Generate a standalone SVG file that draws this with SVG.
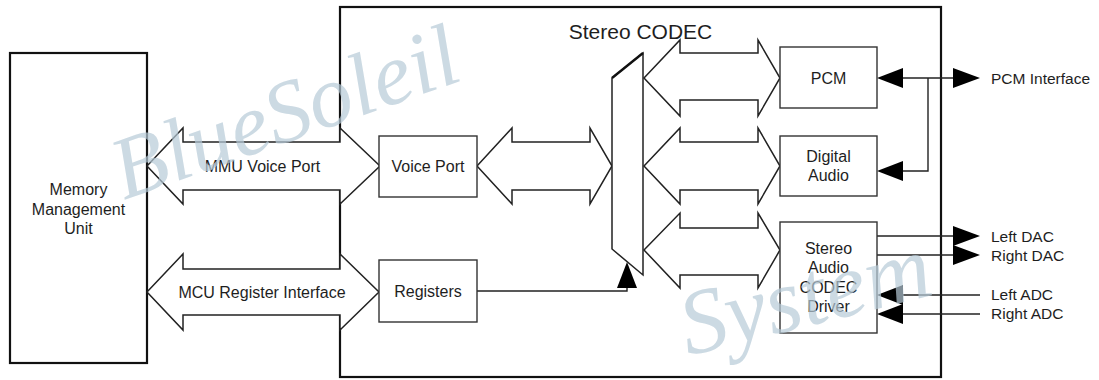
<svg xmlns="http://www.w3.org/2000/svg" width="1099" height="380" viewBox="0 0 1099 380">
<defs>
<style>
.wm{font-family:"Liberation Serif","DejaVu Serif",serif;font-style:italic;fill:#b7cbd8;opacity:0.7}
.box{fill:#fff;stroke:#111;stroke-width:2.2}
.blk{fill:#fff;stroke:#333;stroke-width:1.4}
.arr{fill:#fff;stroke:#222;stroke-width:1.5;stroke-linejoin:miter}
.ln{fill:none;stroke:#222;stroke-width:1.4}
.hd{fill:#000;stroke:none}
.t{font-family:"Liberation Sans",Arial,sans-serif;font-size:16px;fill:#1e1e1e;text-anchor:middle}
.tl{font-family:"Liberation Sans",Arial,sans-serif;font-size:15.5px;fill:#1e1e1e}
.title{font-family:"Liberation Sans",Arial,sans-serif;font-size:21px;fill:#1e1e1e;text-anchor:middle}
</style>
</defs>
<rect width="1099" height="380" fill="#fff"/>

<g id="mmu">
<rect class="box" x="10" y="53" width="137" height="310"/>
<text class="t" x="78.5" y="195">Memory</text>
<text class="t" x="78.5" y="214.5">Management</text>
<text class="t" x="78.5" y="234">Unit</text>
</g>

<g id="stereo-codec">
<rect class="box" x="340" y="7" width="601" height="370"/>
<text class="title" x="640.5" y="38.5">Stereo CODEC</text>
</g>

<g id="connectors">
<g id="mmu-voice-port">
<polygon class="arr" points="147,166 183,128 183,142 340,142 340,128 380,166 340,204 340,190 183,190 183,204"/>
<text class="t" x="262.5" y="171.5">MMU Voice Port</text>
</g>
<g id="mcu-register-interface">
<polygon class="arr" points="147,292 183,254 183,269 340,269 340,254 379,292 340,330 340,315 183,315 183,330"/>
<text class="t" x="262" y="297.5">MCU Register Interface</text>
</g>
<polygon class="arr" points="477,166 512,128 512,142 590,142 590,128 612,166 590,204 590,190 512,190 512,204"/>
<polygon class="arr" points="644,78 680,40 680,53 758,53 758,40 780,78 758,116 758,100 680,100 680,116"/>
<polygon class="arr" points="644,166 680,128 680,142 758,142 758,128 780,166 758,204 758,190 680,190 680,204"/>
<polygon class="arr" points="644,250 680,213 680,228 758,228 758,213 780,250 758,288 758,275 680,275 680,288"/>

<polyline class="ln" points="477,291 627,291 627,287"/>
<polygon class="hd" points="627,262 617,288 637,288"/>

<line class="ln" x1="903" y1="78" x2="954" y2="78"/>
<polyline class="ln" points="928,78 928,171 903,171"/>
<polygon class="hd" points="877,78 903,68 903,88"/>
<polygon class="hd" points="980,78 953,68 953,88"/>
<polygon class="hd" points="877,171 903,161 903,181"/>

<line class="ln" x1="877" y1="236" x2="954" y2="236"/>
<line class="ln" x1="877" y1="255" x2="954" y2="255"/>
<polygon class="hd" points="980,236 953,226 953,246"/>
<polygon class="hd" points="980,255 953,245 953,265"/>

<line class="ln" x1="902" y1="295" x2="980" y2="295"/>
<line class="ln" x1="902" y1="314" x2="980" y2="314"/>
<polygon class="hd" points="877,295 903,285 903,305"/>
<polygon class="hd" points="877,314 903,304 903,324"/>
</g>

<g id="mux">
<polygon class="arr" points="612,78 643,53 643,275 612,249"/>
<line x1="612" y1="78" x2="643" y2="53" stroke="#111" stroke-width="2.4"/>
</g>

<g id="voice-port">
<rect class="blk" x="379" y="136" width="98" height="61"/>
<text class="t" x="428" y="171.5">Voice Port</text>
</g>
<g id="registers">
<rect class="blk" x="379" y="260" width="98" height="62"/>
<text class="t" x="428" y="296.5">Registers</text>
</g>
<g id="pcm">
<rect class="blk" x="780" y="47" width="97" height="61"/>
<text class="t" x="828.5" y="83.5">PCM</text>
</g>
<g id="digital-audio">
<rect class="blk" x="780" y="136" width="97" height="60"/>
<text class="t" x="828.5" y="161.5">Digital</text>
<text class="t" x="828.5" y="181">Audio</text>
</g>
<g id="stereo-audio-codec-driver">
<rect class="blk" x="780" y="222" width="97" height="111"/>
<text class="t" x="828.5" y="253.5">Stereo</text>
<text class="t" x="828.5" y="273">Audio</text>
<text class="t" x="828.5" y="292.5">CODEC</text>
<text class="t" x="828.5" y="312">Driver</text>
</g>

<g id="external-labels">
<text class="tl" x="991" y="83.5">PCM Interface</text>
<text class="tl" x="991" y="241.5">Left DAC</text>
<text class="tl" x="991" y="260.5">Right DAC</text>
<text class="tl" x="991" y="300">Left ADC</text>
<text class="tl" x="991" y="319">Right ADC</text>
</g>

<g id="watermark">
<text class="wm" font-size="88" transform="translate(124,200) rotate(-19.5)">BlueSoleil</text>
<text class="wm" font-size="92" transform="translate(688,356) rotate(-14)">System</text>
</g>
</svg>
